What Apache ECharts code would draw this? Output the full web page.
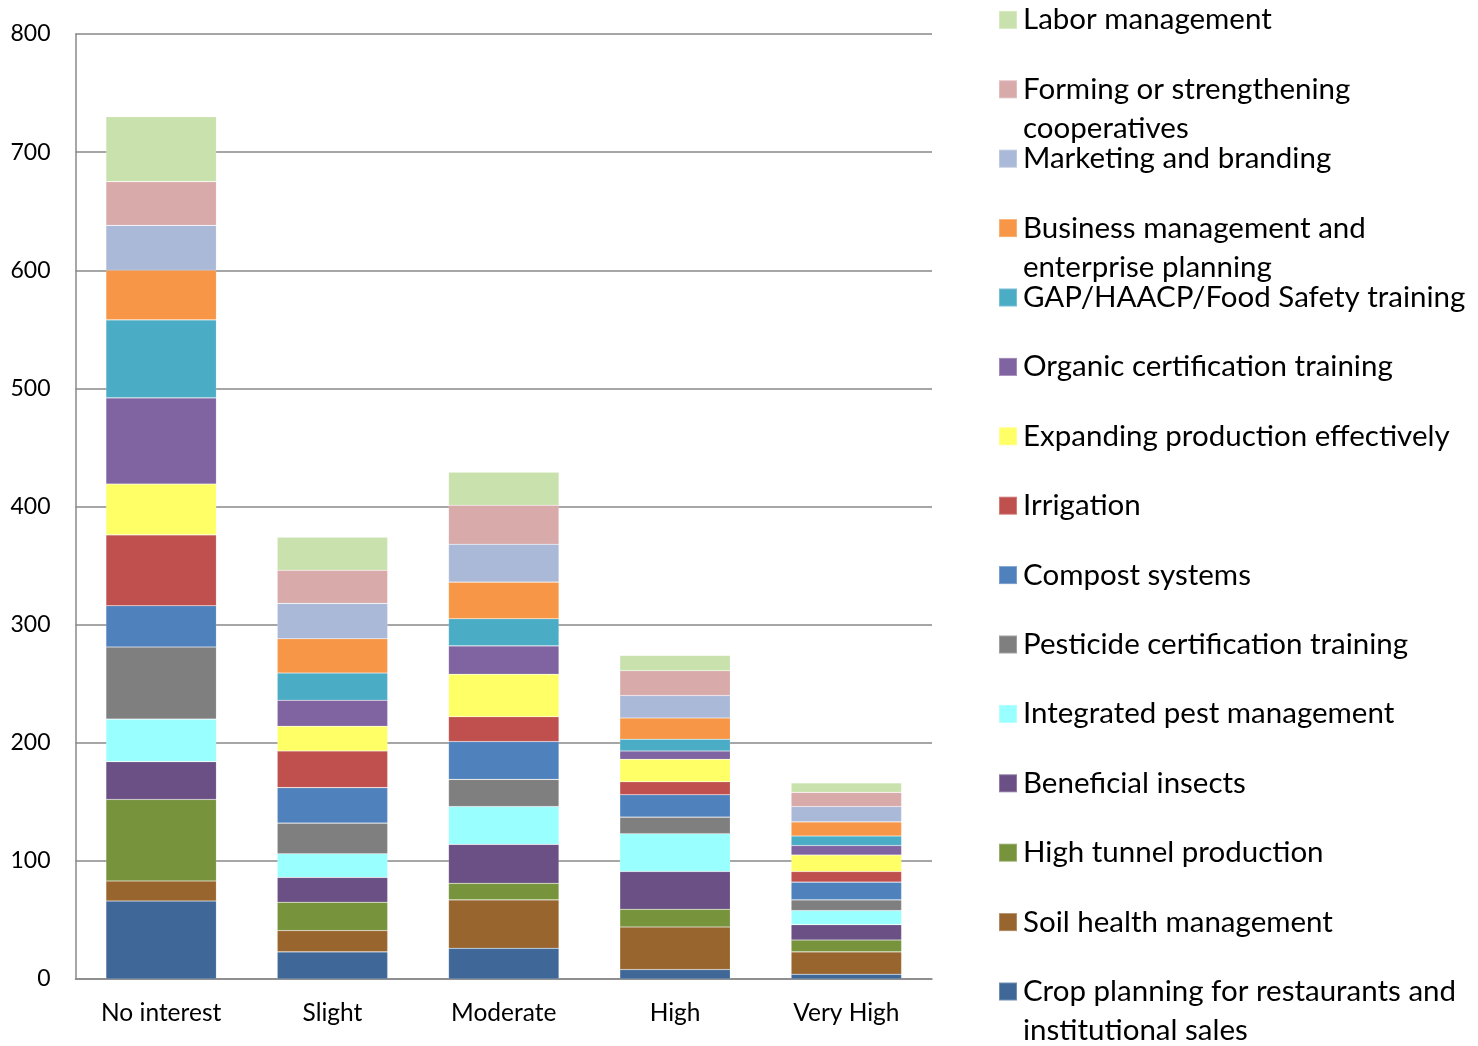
<!DOCTYPE html>
<html>
<head>
<meta charset="utf-8">
<script src="https://cdn.jsdelivr.net/npm/echarts@6/dist/echarts.min.js"></script>
<style>
html,body{margin:0;padding:0;background:#fff;}
#chart{width:1478px;height:1046px;}
</style>
</head>
<body>
<div id="chart"></div>
<script>
// Categories (x axis)
var categories = ['No interest', 'Slight', 'Moderate', 'High', 'Very High'];
// Y axis ticks
var yTicks = [0, 100, 200, 300, 400, 500, 600, 700, 800];

// Series values (stack order, bottom to top)
var cropPlanning   = [66, 23, 26, 8, 4];
var soilHealth     = [17, 18, 41, 36, 19];
var highTunnel     = [69, 24, 14, 15, 10];
var beneficial     = [32, 21, 33, 32, 13];
var ipm            = [36, 20, 32, 32, 12];
var pesticide      = [61, 26, 23, 14, 9];
var compost        = [35, 30, 32, 19, 15];
var irrigation     = [60, 31, 21, 11, 9];
var expanding      = [43, 21, 36, 19, 14];
var organic        = [73, 22, 24, 7, 8];
var gapTraining    = [66, 23, 23, 10, 8];
var business       = [42, 29, 31, 18, 12];
var marketing      = [38, 30, 32, 19, 13];
var forming        = [37, 28, 33, 21, 12];
var labor          = [55, 28, 28, 13, 8];

var seriesNames = [
  'Crop planning for restaurants and institutional sales',
  'Soil health management',
  'High tunnel production',
  'Beneficial insects',
  'Integrated pest management',
  'Pesticide certification training',
  'Compost systems',
  'Irrigation',
  'Expanding production effectively',
  'Organic certification training',
  'GAP/HAACP/Food Safety training',
  'Business management and enterprise planning',
  'Marketing and branding',
  'Forming or strengthening cooperatives',
  'Labor management'
];
var seriesData = [cropPlanning, soilHealth, highTunnel, beneficial, ipm, pesticide,
  compost, irrigation, expanding, organic, gapTraining, business, marketing, forming, labor];
var seriesColors = ['#3F6899', '#98652F', '#77933C', '#6A5084', '#99FFFF', '#7F7F7F',
  '#4F81BD', '#C0504D', '#FFFF66', '#8064A2', '#4BACC6', '#F79646', '#AAB9D7', '#D9AAAA', '#C9E2AD'];
// Legend line breaks (as wrapped in the original)
var legendLines = {
  'Crop planning for restaurants and institutional sales': ['Crop planning for restaurants and', 'institutional sales'],
  'Business management and enterprise planning': ['Business management and', 'enterprise planning'],
  'Forming or strengthening cooperatives': ['Forming or strengthening', 'cooperatives']
};

var FONT = 'Lato, "Open Sans", sans-serif';
var legendOrder = seriesNames.slice().reverse();

var series = seriesNames.map(function (n, i) {
  return {
    name: n,
    type: 'bar',
    stack: 'total',
    barWidth: '64.5%',
    data: seriesData[i],
    itemStyle: { color: seriesColors[i], borderColor: 'rgba(255,255,255,0.25)', borderWidth: 0.6 },
    emphasis: { disabled: true }
  };
});

var LEG_LH = 39;
var legends = legendOrder.map(function (n, i) {
  var lines = legendLines[n] || [n];
  var iconCenter = 19.4 + i * 69.4;
  return {
    data: [n],
    left: 998,
    top: iconCenter - 14.5,
    padding: 0,
    orient: 'vertical',
    icon: 'rect',
    itemWidth: 18,
    itemHeight: 18,
    selectedMode: false,
    formatter: function (name) {
      return lines.map(function (l) { return '{t|' + l + '}'; }).join('\n');
    },
    textStyle: {
      padding: [LEG_LH * (lines.length - 1), 0, 0, 1],
      rich: {
        t: { fontFamily: FONT, fontSize: 29.5, lineHeight: LEG_LH, color: '#000' }
      }
    }
  };
});

var chart = echarts.init(document.getElementById('chart'), null, { renderer: 'canvas' });
chart.setOption({
  backgroundColor: '#fff',
  animation: false,
  textStyle: { fontFamily: FONT },
  grid: { left: 75.5, right: 546, top: 34, bottom: 67, containLabel: false },
  legend: legends,
  xAxis: {
    type: 'category',
    data: categories,
    axisLine: { show: true, lineStyle: { color: '#888888', width: 1.5 } },
    axisTick: { show: false },
    axisLabel: { fontFamily: FONT, fontSize: 24.5, color: '#000', margin: 22 },
    splitLine: { show: false }
  },
  yAxis: {
    type: 'value',
    min: yTicks[0],
    max: yTicks[yTicks.length - 1],
    interval: yTicks[1] - yTicks[0],
    axisLine: { show: true, lineStyle: { color: '#888888', width: 1.5 } },
    axisTick: { show: false },
    axisLabel: { fontFamily: FONT, fontSize: 23, color: '#000', margin: 25 },
    splitLine: { show: true, lineStyle: { color: '#888888', width: 1.5 } }
  },
  series: series
});
</script>
</body>
</html>
